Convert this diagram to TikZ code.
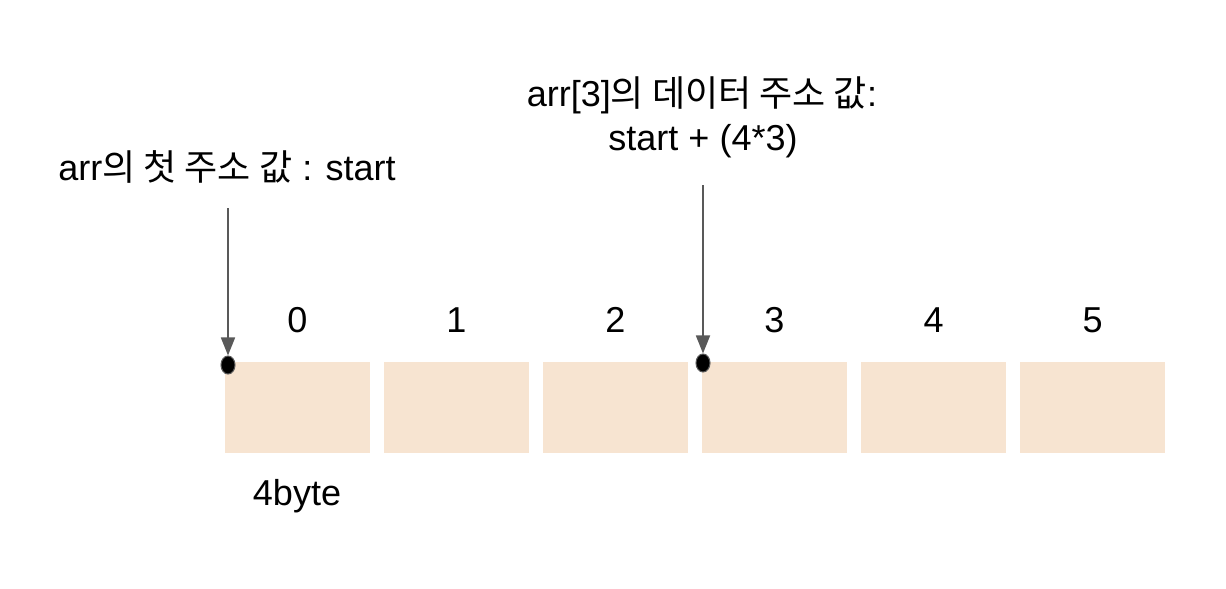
\documentclass[tikz,border=0pt]{standalone}
\usepackage{fontspec}
\setmainfont{Liberation Sans}
\newfontfamily\krfont{Noto Sans CJK KR}
\usetikzlibrary{arrows.meta}
\usetikzlibrary{positioning}
\usetikzlibrary{shapes.geometric}
\definecolor{cellfill}{HTML}{F7E4D1}
\definecolor{pointergray}{HTML}{595959}
\tikzset{cell/.style = {fill=cellfill, minimum width=2.9cm, minimum height=1.82cm,
                        inner sep=0pt, outer sep=0pt},
         pointer/.style = {draw=pointergray, line width=1pt,
                           -{Triangle[length=0.36cm, width=0.28cm]}},
         addrdot/.style = {ellipse, fill=black, draw=pointergray, line width=0.6pt,
                           minimum width=0.28cm, minimum height=0.36cm, inner sep=0pt},
         txt/.style = {font=\fontsize{20.5}{26}\selectfont, inner sep=0pt, anchor=base}}
\begin{document}
\begin{tikzpicture}[x=0.02cm, y=-0.02cm]
      \useasboundingbox (0, 0) rectangle (1226, 588);

      % cells of arr
      \foreach \i in {0,...,5} {
        \node [cell] (b\i) at (297.5 + 159*\i, 407.5) {};
        \node [txt] (n\i) at (297.5 + 159*\i, 332) {\i};
      }
      \node [txt] (size) at (297, 505) {4byte};

      % start address
      \node [addrdot] (d0) at (228, 365) {};
      \node [txt] (t0) at (227, 180) {arr{\krfont 의 첫 주소 값} : start};
      \coordinate (p0) at (228, 208);
      \draw [pointer] (p0) -- (d0);

      % address of arr[3]
      \node [addrdot] (d3) at (703, 363) {};
      \node [txt] (t3a) at (702, 107) {arr[3]{\krfont 의 데이터 주소 값}:};
      \node [txt] (t3b) at (703, 150) {start + (4*3)};
      \coordinate (p3) at (703, 185);
      \draw [pointer] (p3) -- (d3);
\end{tikzpicture}
\end{document}
